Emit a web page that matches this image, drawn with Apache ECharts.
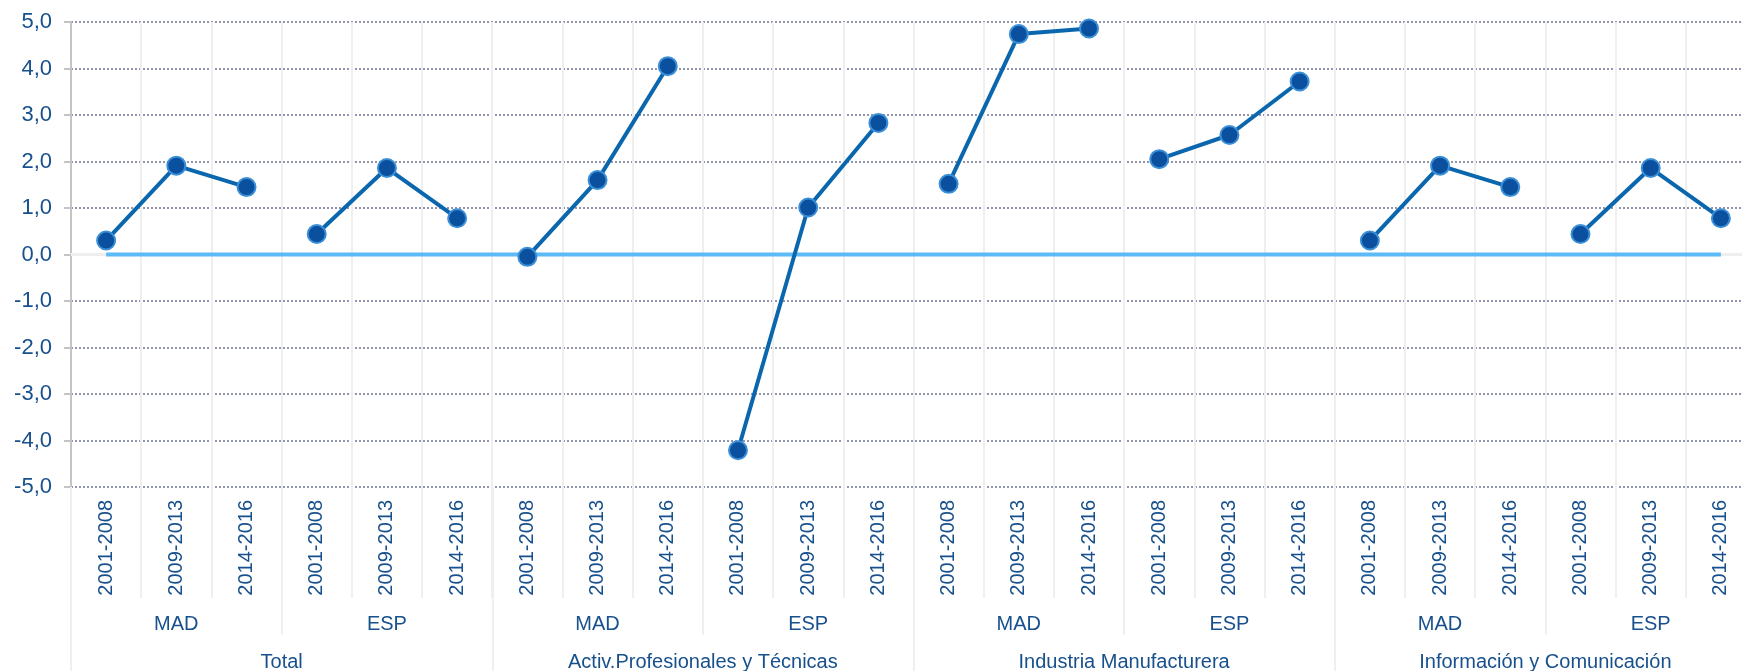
<!DOCTYPE html>
<html>
<head>
<meta charset="utf-8">
<script src="https://cdn.jsdelivr.net/npm/echarts@6/dist/echarts.min.js"></script>
<style>
  html, body { margin: 0; padding: 0; background: #fff; }
  #chart { width: 1742px; height: 671px; }
</style>
</head>
<body>
<div id="chart"></div>
<script>
// category levels
const periods = ['2001-2008', '2009-2013', '2014-2016'];
const regions = ['MAD', 'ESP'];
const sectors = ['Total', 'Activ.Profesionales y Técnicas', 'Industria Manufacturera', 'Información y Comunicación'];

// values per sector / region (one point per period)
const totalMAD = [0.30, 1.91, 1.45];
const totalESP = [0.44, 1.86, 0.78];
const profMAD = [-0.05, 1.60, 4.05];
const profESP = [-4.21, 1.01, 2.83];
const induMAD = [1.52, 4.74, 4.86];
const induESP = [2.05, 2.57, 3.72];
const infoMAD = [0.30, 1.91, 1.45];
const infoESP = [0.44, 1.86, 0.78];

const yTicks = [-5, -4, -3, -2, -1, 0, 1, 2, 3, 4, 5];

const groups = [totalMAD, totalESP, profMAD, profESP, induMAD, induESP, infoMAD, infoESP];

// build the flat category lists
let yearCats = [];
let regionCats = [];
sectors.forEach(() => {
    regions.forEach(r => {
        regionCats.push(r);
        periods.forEach(p => yearCats.push(p));
    });
});

const textColor = '#17508c';
const lineColor = '#0a67ae';
const font = 'Liberation Sans, Arial, sans-serif';

let series = groups.map((vals, gi) => {
    let data = new Array(yearCats.length).fill(null);
    vals.forEach((v, i) => { data[gi * 3 + i] = v; });
    return {
        type: 'line',
        data: data,
        z: 5,
        symbol: 'circle',
        symbolSize: 18,
        lineStyle: { color: lineColor, width: 4 },
        itemStyle: { color: '#0b4f9f', borderColor: '#3a8fd6', borderWidth: 2 },
        connectNulls: false,
        silent: true
    };
});

// blue zero line
series.push({
    type: 'line',
    data: new Array(yearCats.length).fill(0),
    z: 3,
    symbol: 'none',
    silent: true,
    lineStyle: { color: '#5cbaf6', width: 4 }
});

const chart = echarts.init(document.getElementById('chart'));
chart.setOption({
    animation: false,
    backgroundColor: '#ffffff',
    // plot runs a little past the right edge, as in the original picture
    grid: { left: 71, width: 1685, top: 22, bottom: 184, outerBoundsMode: 'none', containLabel: false },
    xAxis: [
        {
            type: 'category',
            position: 'bottom',
            data: yearCats,
            axisLine: { show: false, onZero: false },
            axisTick: { show: true, length: 111, lineStyle: { color: '#efefef', width: 2 } },
            splitLine: { show: true, lineStyle: { color: '#efefef', width: 2 } },
            axisLabel: { rotate: 90, margin: 13, fontSize: 20, color: textColor, fontFamily: font, interval: 0 }
        },
        {
            type: 'category',
            position: 'bottom',
            data: regionCats,
            axisLine: { show: false, onZero: false },
            axisTick: { show: true, length: 148, lineStyle: { color: '#efefef', width: 2 } },
            splitLine: { show: false },
            axisLabel: { margin: 127, fontSize: 20, color: textColor, fontFamily: font, interval: 0 }
        },
        {
            type: 'category',
            position: 'bottom',
            data: sectors,
            axisLine: { show: false, onZero: false },
            axisTick: { show: true, length: 190, lineStyle: { color: '#efefef', width: 2 } },
            splitLine: { show: false },
            axisLabel: { margin: 165, fontSize: 20, color: textColor, fontFamily: font, interval: 0 }
        },
        {
            // light grey axis line sitting on zero
            type: 'category',
            data: yearCats,
            axisLine: { show: true, onZero: true, lineStyle: { color: '#eeeeee', width: 3 } },
            axisTick: { show: false },
            axisLabel: { show: false },
            splitLine: { show: false }
        }
    ],
    yAxis: {
        type: 'value',
        min: yTicks[0],
        max: yTicks[yTicks.length - 1],
        interval: 1,
        axisLine: { show: true, lineStyle: { color: '#c4c4c4', width: 2 } },
        axisTick: { show: true, length: 7, lineStyle: { color: '#c4c4c4', width: 2 } },
        splitLine: { show: true, lineStyle: { color: '#9195ad', width: 2, type: [2, 2] } },
        axisLabel: {
            margin: 19, fontSize: 22, color: textColor, fontFamily: font,
            formatter: v => v.toFixed(1).replace('.', ',')
        }
    },
    series: series
});
</script>
</body>
</html>
